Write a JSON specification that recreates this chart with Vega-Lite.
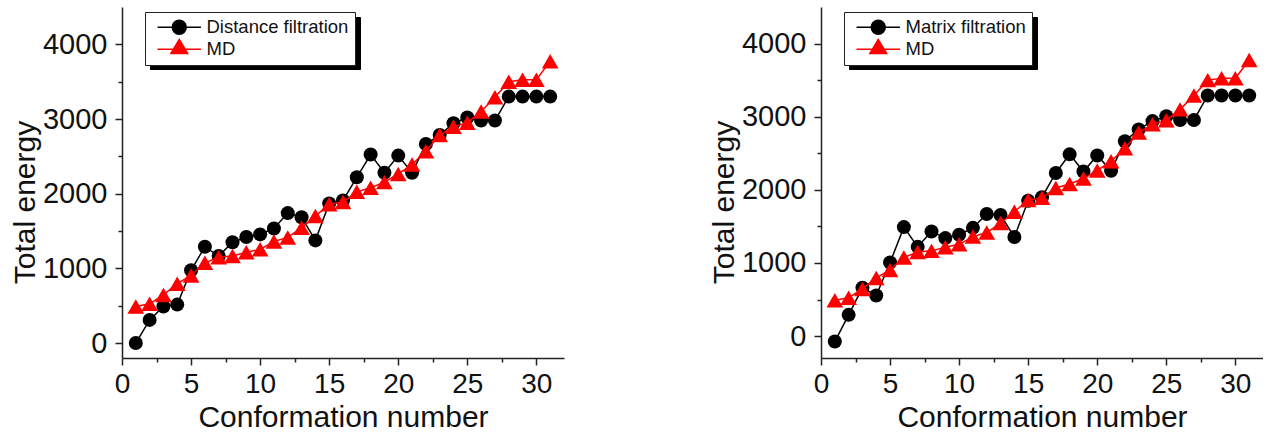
{
  "$schema": "https://vega.github.io/schema/vega-lite/v6.json",
  "padding": {"left": 10, "top": 7, "right": 0, "bottom": 0},
  "spacing": 145,
  "config": {
    "font": "Liberation Sans",
    "view": {"stroke": null},
    "axis": {
      "grid": false,
      "domainColor": "#222222",
      "domainWidth": 1.5,
      "tickColor": "#222222",
      "tickWidth": 1.5,
      "labelFont": "Liberation Sans",
      "labelFontSize": 28,
      "labelColor": "#111111",
      "titleFont": "Liberation Sans",
      "titleFontSize": 30,
      "titleFontWeight": "normal",
      "titleColor": "#111111",
      "labelPadding": 5,
      "labelOverlap": false,
      "labelFlush": false
    },
    "legend": {
      "labelFont": "Liberation Sans"
    }
  },
  "datasets": {
    "left": [
      {"n":1,"series":"Distance filtration","energy":0},{"n":2,"series":"Distance filtration","energy":310},{"n":3,"series":"Distance filtration","energy":490},{"n":4,"series":"Distance filtration","energy":515},{"n":5,"series":"Distance filtration","energy":975},{"n":6,"series":"Distance filtration","energy":1290},{"n":7,"series":"Distance filtration","energy":1165},{"n":8,"series":"Distance filtration","energy":1350},{"n":9,"series":"Distance filtration","energy":1420},{"n":10,"series":"Distance filtration","energy":1455},{"n":11,"series":"Distance filtration","energy":1535},{"n":12,"series":"Distance filtration","energy":1740},{"n":13,"series":"Distance filtration","energy":1685},{"n":14,"series":"Distance filtration","energy":1375},{"n":15,"series":"Distance filtration","energy":1870},{"n":16,"series":"Distance filtration","energy":1910},{"n":17,"series":"Distance filtration","energy":2220},{"n":18,"series":"Distance filtration","energy":2525},{"n":19,"series":"Distance filtration","energy":2280},{"n":20,"series":"Distance filtration","energy":2510},{"n":21,"series":"Distance filtration","energy":2280},{"n":22,"series":"Distance filtration","energy":2665},{"n":23,"series":"Distance filtration","energy":2786},{"n":24,"series":"Distance filtration","energy":2945},{"n":25,"series":"Distance filtration","energy":3020},{"n":26,"series":"Distance filtration","energy":2980},{"n":27,"series":"Distance filtration","energy":2980},{"n":28,"series":"Distance filtration","energy":3300},{"n":29,"series":"Distance filtration","energy":3300},{"n":30,"series":"Distance filtration","energy":3300},{"n":31,"series":"Distance filtration","energy":3300},
      {"n":1,"series":"MD","energy":490},{"n":2,"series":"MD","energy":525},{"n":3,"series":"MD","energy":645},{"n":4,"series":"MD","energy":795},{"n":5,"series":"MD","energy":905},{"n":6,"series":"MD","energy":1075},{"n":7,"series":"MD","energy":1150},{"n":8,"series":"MD","energy":1165},{"n":9,"series":"MD","energy":1215},{"n":10,"series":"MD","energy":1255},{"n":11,"series":"MD","energy":1360},{"n":12,"series":"MD","energy":1415},{"n":13,"series":"MD","energy":1545},{"n":14,"series":"MD","energy":1700},{"n":15,"series":"MD","energy":1860},{"n":16,"series":"MD","energy":1890},{"n":17,"series":"MD","energy":2025},{"n":18,"series":"MD","energy":2080},{"n":19,"series":"MD","energy":2155},{"n":20,"series":"MD","energy":2265},{"n":21,"series":"MD","energy":2390},{"n":22,"series":"MD","energy":2570},{"n":23,"series":"MD","energy":2785},{"n":24,"series":"MD","energy":2895},{"n":25,"series":"MD","energy":2950},{"n":26,"series":"MD","energy":3100},{"n":27,"series":"MD","energy":3290},{"n":28,"series":"MD","energy":3500},{"n":29,"series":"MD","energy":3525},{"n":30,"series":"MD","energy":3525},{"n":31,"series":"MD","energy":3775}
    ],
    "right": [
      {"n":1,"series":"Matrix filtration","energy":-75},{"n":2,"series":"Matrix filtration","energy":290},{"n":3,"series":"Matrix filtration","energy":660},{"n":4,"series":"Matrix filtration","energy":555},{"n":5,"series":"Matrix filtration","energy":1005},{"n":6,"series":"Matrix filtration","energy":1490},{"n":7,"series":"Matrix filtration","energy":1220},{"n":8,"series":"Matrix filtration","energy":1430},{"n":9,"series":"Matrix filtration","energy":1340},{"n":10,"series":"Matrix filtration","energy":1385},{"n":11,"series":"Matrix filtration","energy":1480},{"n":12,"series":"Matrix filtration","energy":1670},{"n":13,"series":"Matrix filtration","energy":1655},{"n":14,"series":"Matrix filtration","energy":1355},{"n":15,"series":"Matrix filtration","energy":1850},{"n":16,"series":"Matrix filtration","energy":1900},{"n":17,"series":"Matrix filtration","energy":2230},{"n":18,"series":"Matrix filtration","energy":2485},{"n":19,"series":"Matrix filtration","energy":2250},{"n":20,"series":"Matrix filtration","energy":2470},{"n":21,"series":"Matrix filtration","energy":2260},{"n":22,"series":"Matrix filtration","energy":2665},{"n":23,"series":"Matrix filtration","energy":2825},{"n":24,"series":"Matrix filtration","energy":2940},{"n":25,"series":"Matrix filtration","energy":3005},{"n":26,"series":"Matrix filtration","energy":2955},{"n":27,"series":"Matrix filtration","energy":2955},{"n":28,"series":"Matrix filtration","energy":3290},{"n":29,"series":"Matrix filtration","energy":3290},{"n":30,"series":"Matrix filtration","energy":3290},{"n":31,"series":"Matrix filtration","energy":3290},
      {"n":1,"series":"MD","energy":490},{"n":2,"series":"MD","energy":525},{"n":3,"series":"MD","energy":645},{"n":4,"series":"MD","energy":795},{"n":5,"series":"MD","energy":905},{"n":6,"series":"MD","energy":1075},{"n":7,"series":"MD","energy":1150},{"n":8,"series":"MD","energy":1165},{"n":9,"series":"MD","energy":1215},{"n":10,"series":"MD","energy":1255},{"n":11,"series":"MD","energy":1360},{"n":12,"series":"MD","energy":1415},{"n":13,"series":"MD","energy":1545},{"n":14,"series":"MD","energy":1700},{"n":15,"series":"MD","energy":1860},{"n":16,"series":"MD","energy":1890},{"n":17,"series":"MD","energy":2025},{"n":18,"series":"MD","energy":2080},{"n":19,"series":"MD","energy":2155},{"n":20,"series":"MD","energy":2265},{"n":21,"series":"MD","energy":2390},{"n":22,"series":"MD","energy":2570},{"n":23,"series":"MD","energy":2785},{"n":24,"series":"MD","energy":2895},{"n":25,"series":"MD","energy":2950},{"n":26,"series":"MD","energy":3100},{"n":27,"series":"MD","energy":3290},{"n":28,"series":"MD","energy":3500},{"n":29,"series":"MD","energy":3525},{"n":30,"series":"MD","energy":3525},{"n":31,"series":"MD","energy":3775}
    ]
  },
  "hconcat": [
    {
      "width": 442,
      "height": 351,
      "data": {"name": "left"},
      "encoding": {
        "x": {"field": "n", "type": "quantitative",
          "scale": {"domain": [0, 32], "nice": false, "zero": false},
          "axis": {"title": "Conformation number", "values": [0,2.5,5,7.5,10,12.5,15,17.5,20,22.5,25,27.5,30],
            "labelExpr": "datum.value % 5 === 0 ? datum.label : ''",
            "tickSize": {"condition": {"test": "datum.value % 5 !== 0", "value": 4}, "value": 7},
            "titlePadding": 4}},
        "y": {"field": "energy", "type": "quantitative",
          "scale": {"domain": [-200, 4500], "nice": false, "zero": false},
          "axis": {"title": "Total energy", "values": [0,500,1000,1500,2000,2500,3000,3500,4000], "format": "d",
            "labelExpr": "datum.value % 1000 === 0 ? datum.label : ''",
            "tickSize": {"condition": {"test": "datum.value % 1000 !== 0", "value": 4}, "value": 7},
            "labelFontSize": 29, "labelPadding": 8, "titlePadding": 2, "titleY": 195}}
      },
      "layer": [
        {"transform": [{"filter": "datum.series !== 'MD'"}], "mark": {"type": "line", "color": "#000000", "strokeWidth": 1.5}},
        {"transform": [{"filter": "datum.series !== 'MD'"}], "mark": {"type": "point", "shape": "circle", "filled": true, "color": "#000000", "opacity": 1, "size": 196}},
        {"transform": [{"filter": "datum.series === 'MD'"}], "mark": {"type": "line", "color": "#ff0000", "strokeWidth": 1.5}},
        {"transform": [{"filter": "datum.series === 'MD'"}], "mark": {"type": "point", "shape": "triangle-up", "filled": true, "color": "#ff0000", "opacity": 1, "size": 280}},
        {"transform": [{"filter": "datum.n < 0"}],
          "mark": {"type": "point", "filled": true, "opacity": 1, "strokeWidth": 1.5},
          "encoding": {
            "fill": {"field": "series", "type": "nominal", "scale": {"domain": ["Distance filtration", "MD"], "range": ["#000000", "#ff0000"]},
              "legend": {"orient": "none", "legendX": 23, "legendY": 5, "title": null, "fillColor": "#ffffff", "strokeColor": "#222222", "padding": 6, "symbolSize": 196, "symbolStrokeWidth": 1.5, "symbolOffset": 19, "labelOffset": 18, "labelFontSize": 18.5, "labelColor": "#111111", "labelExpr": "datum.label + '\u2002'", "rowPadding": -2, "zindex": 2}},
            "stroke": {"field": "series", "type": "nominal", "scale": {"domain": ["Distance filtration", "MD"], "range": ["#000000", "#ff0000"]},
              "legend": {"orient": "none", "legendX": 23, "legendY": 5, "title": null, "fillColor": "#ffffff", "strokeColor": "#222222", "padding": 6, "symbolSize": 196, "symbolStrokeWidth": 1.5, "symbolOffset": 19, "labelOffset": 18, "labelFontSize": 18.5, "labelColor": "#111111", "labelExpr": "datum.label + '\u2002'", "rowPadding": -2, "zindex": 2}},
            "shape": {"field": "series", "type": "nominal", "scale": {"domain": ["Distance filtration", "MD"], "range": ["M-3.1,0H3.1M-1,0A1,1,0,1,0,1,0A1,1,0,1,0,-1,0Z", "M-3.1,0H3.1M0,-1.4L1.2,0.6L-1.2,0.6Z"]},
              "legend": {"orient": "none", "legendX": 23, "legendY": 5, "title": null, "fillColor": "#ffffff", "strokeColor": "#222222", "padding": 6, "symbolSize": 196, "symbolStrokeWidth": 1.5, "symbolOffset": 19, "labelOffset": 18, "labelFontSize": 18.5, "labelColor": "#111111", "labelExpr": "datum.label + '\u2002'", "rowPadding": -2, "zindex": 2}},
            "strokeDash": {"field": "shadow", "type": "nominal", "scale": {"domain": ["Distance filtration ", "MD "], "range": [[1,0],[1,0]]},
              "legend": {"orient": "none", "legendX": 28, "legendY": 10, "title": null, "fillColor": "#000000", "strokeColor": "#000000", "padding": 6, "symbolType": "circle", "symbolSize": 196, "symbolFillColor": "#000000", "symbolStrokeColor": "#000000", "symbolOffset": 19, "labelOffset": 18, "labelFontSize": 18.5, "labelColor": "#000000", "labelExpr": "trim(datum.label) + '\u2002'", "rowPadding": -2, "zindex": 1}}
          }}
      ]
    },
    {
      "width": 442,
      "height": 351,
      "data": {"name": "right"},
      "encoding": {
        "x": {"field": "n", "type": "quantitative",
          "scale": {"domain": [0, 32], "nice": false, "zero": false},
          "axis": {"title": "Conformation number", "values": [0,2.5,5,7.5,10,12.5,15,17.5,20,22.5,25,27.5,30],
            "labelExpr": "datum.value % 5 === 0 ? datum.label : ''",
            "tickSize": {"condition": {"test": "datum.value % 5 !== 0", "value": 4}, "value": 7},
            "titlePadding": 4}},
        "y": {"field": "energy", "type": "quantitative",
          "scale": {"domain": [-300, 4500], "nice": false, "zero": false},
          "axis": {"title": "Total energy", "values": [0,500,1000,1500,2000,2500,3000,3500,4000], "format": "d",
            "labelExpr": "datum.value % 1000 === 0 ? datum.label : ''",
            "tickSize": {"condition": {"test": "datum.value % 1000 !== 0", "value": 4}, "value": 7},
            "labelFontSize": 29, "labelPadding": 8, "titlePadding": 2, "titleY": 195}}
      },
      "layer": [
        {"transform": [{"filter": "datum.series !== 'MD'"}], "mark": {"type": "line", "color": "#000000", "strokeWidth": 1.5}},
        {"transform": [{"filter": "datum.series !== 'MD'"}], "mark": {"type": "point", "shape": "circle", "filled": true, "color": "#000000", "opacity": 1, "size": 196}},
        {"transform": [{"filter": "datum.series === 'MD'"}], "mark": {"type": "line", "color": "#ff0000", "strokeWidth": 1.5}},
        {"transform": [{"filter": "datum.series === 'MD'"}], "mark": {"type": "point", "shape": "triangle-up", "filled": true, "color": "#ff0000", "opacity": 1, "size": 280}},
        {"transform": [{"filter": "datum.n < 0"}],
          "mark": {"type": "point", "filled": true, "opacity": 1, "strokeWidth": 1.5},
          "encoding": {
            "fill": {"field": "series", "type": "nominal", "scale": {"domain": ["Matrix filtration", "MD"], "range": ["#000000", "#ff0000"]},
              "legend": {"orient": "none", "legendX": 23, "legendY": 5, "title": null, "fillColor": "#ffffff", "strokeColor": "#222222", "padding": 6, "symbolSize": 196, "symbolStrokeWidth": 1.5, "symbolOffset": 19, "labelOffset": 18, "labelFontSize": 18.5, "labelColor": "#111111", "labelExpr": "datum.label + '\u2002'", "rowPadding": -2, "zindex": 2}},
            "stroke": {"field": "series", "type": "nominal", "scale": {"domain": ["Matrix filtration", "MD"], "range": ["#000000", "#ff0000"]},
              "legend": {"orient": "none", "legendX": 23, "legendY": 5, "title": null, "fillColor": "#ffffff", "strokeColor": "#222222", "padding": 6, "symbolSize": 196, "symbolStrokeWidth": 1.5, "symbolOffset": 19, "labelOffset": 18, "labelFontSize": 18.5, "labelColor": "#111111", "labelExpr": "datum.label + '\u2002'", "rowPadding": -2, "zindex": 2}},
            "shape": {"field": "series", "type": "nominal", "scale": {"domain": ["Matrix filtration", "MD"], "range": ["M-3.1,0H3.1M-1,0A1,1,0,1,0,1,0A1,1,0,1,0,-1,0Z", "M-3.1,0H3.1M0,-1.4L1.2,0.6L-1.2,0.6Z"]},
              "legend": {"orient": "none", "legendX": 23, "legendY": 5, "title": null, "fillColor": "#ffffff", "strokeColor": "#222222", "padding": 6, "symbolSize": 196, "symbolStrokeWidth": 1.5, "symbolOffset": 19, "labelOffset": 18, "labelFontSize": 18.5, "labelColor": "#111111", "labelExpr": "datum.label + '\u2002'", "rowPadding": -2, "zindex": 2}},
            "strokeDash": {"field": "shadow", "type": "nominal", "scale": {"domain": ["Matrix filtration ", "MD "], "range": [[1,0],[1,0]]},
              "legend": {"orient": "none", "legendX": 28, "legendY": 10, "title": null, "fillColor": "#000000", "strokeColor": "#000000", "padding": 6, "symbolType": "circle", "symbolSize": 196, "symbolFillColor": "#000000", "symbolStrokeColor": "#000000", "symbolOffset": 19, "labelOffset": 18, "labelFontSize": 18.5, "labelColor": "#000000", "labelExpr": "trim(datum.label) + '\u2002'", "rowPadding": -2, "zindex": 1}}
          }}
      ]
    }
  ],
  "resolve": {"scale": {"fill": "independent", "stroke": "independent", "shape": "independent", "strokeDash": "independent"}}
}
